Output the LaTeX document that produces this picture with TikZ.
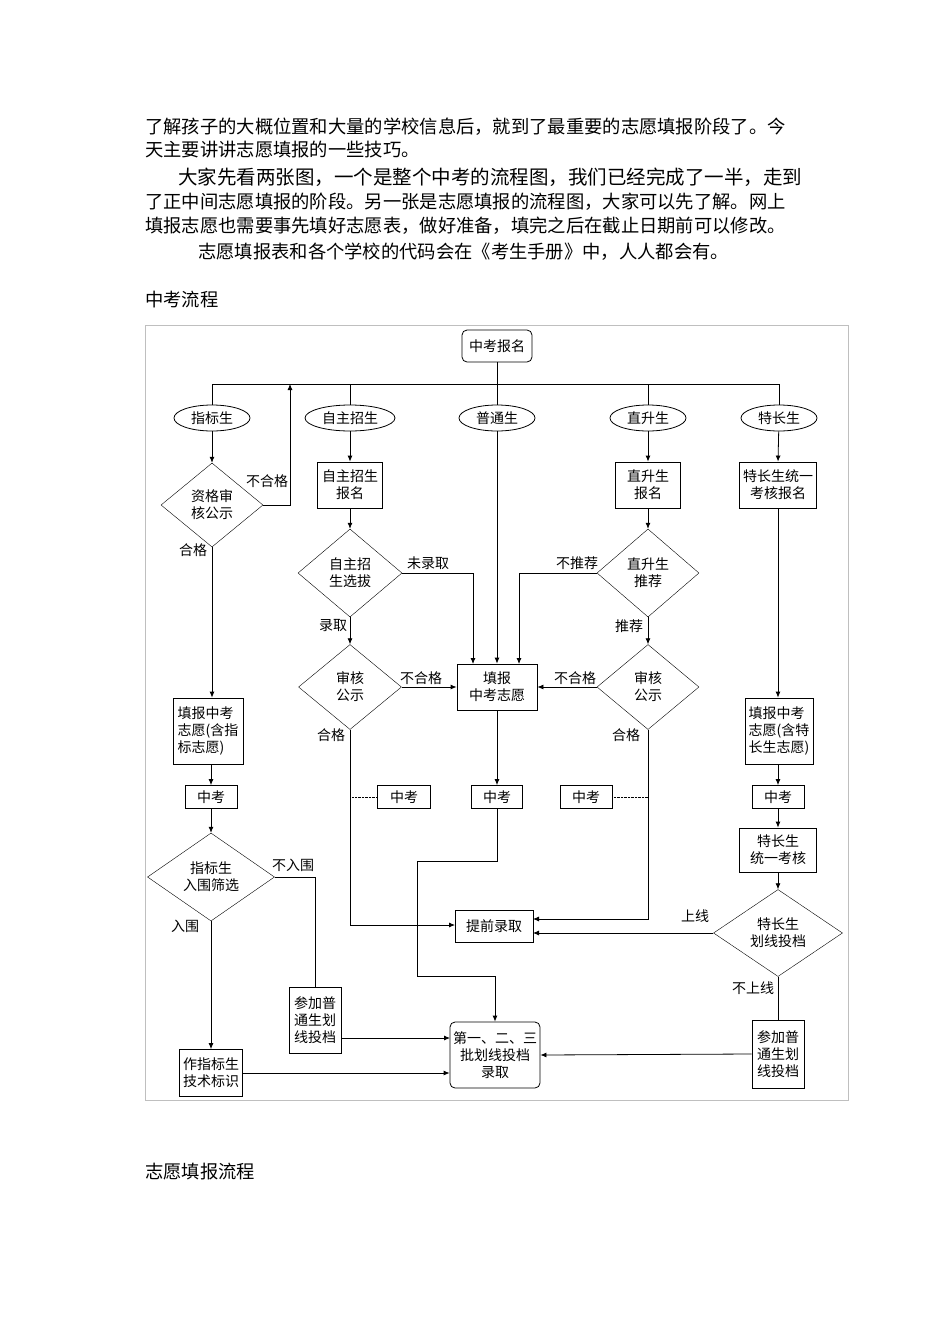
\documentclass[tikz,border=0pt]{standalone}
\usepackage{fontspec}
\setmainfont{Noto Sans CJK SC}
\usetikzlibrary{shapes.geometric,arrows.meta}
\tikzset{
  base/.style={font=\fontsize{14}{17}\selectfont, inner sep=1pt, align=center},
  boxn/.style={base, draw, thick},
  rboxn/.style={base, draw, thick, rounded corners=5pt},
  ell/.style={base, draw, thick, ellipse, minimum height=26pt},
  dia/.style={base, draw, diamond, inner sep=0pt},
  lbl/.style={font=\fontsize{14}{17}\selectfont, inner sep=1pt},
  body/.style={font=\fontsize{18.3}{20}\selectfont, anchor=west, inner sep=0pt},
  arr/.style={-{Latex[length=6pt,width=5pt]}, thick},
  ln/.style={thick},
}
\begin{document}
\begin{tikzpicture}[x=1pt,y=-1pt]
\useasboundingbox (0,0) rectangle (950,1344);
\fill[white] (0,0) rectangle (950,1344);
% body text
\node[body] (t1) at (145,127) {了解孩子的大概位置和大量的学校信息后，就到了最重要的志愿填报阶段了。今};
\node[body] (t2) at (145,150) {天主要讲讲志愿填报的一些技巧。};
\node[body, font=\fontsize{19.5}{20}\selectfont] (t3) at (178,177) {大家先看两张图，一个是整个中考的流程图，我们已经完成了一半，走到};
\node[body] (t4) at (145,202) {了正中间志愿填报的阶段。另一张是志愿填报的流程图，大家可以先了解。网上};
\node[body] (t5) at (145,226) {填报志愿也需要事先填好志愿表，做好准备，填完之后在截止日期前可以修改。};
\node[body] (t6) at (198,252) {志愿填报表和各个学校的代码会在《考生手册》中，人人都会有。};
\node[body] (h1) at (145,300) {中考流程};
\node[body] (h2) at (145,1172) {志愿填报流程};
% frame
\draw[gray!50] (145,325) rectangle (848,1100);
% top
\node[rboxn, minimum width=70pt, minimum height=32pt] (bm) at (497,346) {中考报名};
\node[ell, minimum width=76pt] (e1) at (212,418) {指标生};
\node[ell, minimum width=90pt] (e2) at (350,418) {自主招生};
\node[ell, minimum width=76pt] (e3) at (497,418) {普通生};
\node[ell, minimum width=76pt] (e4) at (648,418) {直升生};
\node[ell, minimum width=76pt] (e5) at (779,418) {特长生};
\coordinate (jl) at (212,384); \coordinate (jr) at (779,384);
\coordinate (jup) at (290,384);
\draw[ln] (e1.north) -- (jl) -- (jr) -- (e5.north);
\draw[ln] (350,384) -- (e2.north);
\draw[ln] (648,384) -- (e4.north);
\draw[ln] (bm.south) -- (e3.north);
% column 1
\node[dia, minimum width=102pt, minimum height=84pt] (d1) at (212,505) {资格审\\核公示};
\draw[arr] (e1) -- (d1.north);
\draw[arr] (d1.east) -- (290,505) -- (jup);
\node[lbl] (l1) at (267,481) {不合格};
\node[lbl] (l2) at (193,550) {合格};
\node[boxn, minimum width=70pt, minimum height=66pt, align=left] (b1) at (208,731) {填报中考\\志愿(含指\\标志愿)};
\draw[arr] (d1.south) -- (b1.north -| d1.south);
\node[boxn, minimum width=52pt, minimum height=23pt] (z1) at (211,797) {中考};
\draw[arr] (b1.south -| z1.north) -- (z1.north);
\node[dia, minimum width=127pt, minimum height=88pt] (d2) at (211,877) {指标生\\入围筛选};
\draw[arr] (z1) -- (d2.north);
\node[lbl] (l3) at (293,865) {不入围};
\node[lbl] (l4) at (185,926) {入围};
\node[boxn, minimum width=52pt, minimum height=66pt] (p1) at (315,1020) {参加普\\通生划\\线投档};
\draw[ln] (d2.east) -- (315,877) -- (p1.north);
\node[boxn, minimum width=63pt, minimum height=47pt] (zb) at (211,1073) {作指标生\\技术标识};
\draw[arr] (d2.south) -- (zb.north);
\node[rboxn, minimum width=90pt, minimum height=66pt] (fin) at (495,1055) {第一、二、三\\批划线投档\\录取};
\draw[arr] (zb.east) -- (zb.east -| fin.west);
\draw[arr] (341,1038) -- (450,1038);
% column 2
\node[boxn, minimum width=65pt, minimum height=46pt] (b2) at (350,485) {自主招生\\报名};
\draw[arr] (e2) -- (b2.north);
\node[dia, minimum width=104pt, minimum height=88pt] (d3) at (350,573) {自主招\\生选拔};
\draw[arr] (b2) -- (d3.north);
\node[lbl] (l5) at (428,563) {未录取};
\node[lbl] (l6) at (333,626) {录取};
\node[dia, minimum width=103pt, minimum height=85pt] (d4) at (350,687) {审核\\公示};
\draw[arr] (d3.south) -- (d4.north);
\node[lbl] (l7) at (421,678) {不合格};
\node[lbl] (l8) at (331,735) {合格};
\node[boxn, minimum width=80pt, minimum height=46pt] (tb) at (497,687) {填报\\中考志愿};
\draw[arr] (d3.east) -- (473,573) -- (473,664);
\draw[arr] (e3.south) -- (tb.north);
\draw[arr] (d4.east) -- (tb.west);
\node[boxn, minimum width=78pt, minimum height=32pt] (tq) at (494,926) {提前录取};
\draw[arr] (d4.south) -- (350,925) -- (455,925);
\node[boxn, minimum width=53pt, minimum height=23pt] (z2) at (404,797) {中考};
\draw[densely dotted] (352,797) -- (z2.west);
\node[boxn, minimum width=51pt, minimum height=23pt] (z3) at (497,797) {中考};
\draw[arr] (tb.south) -- (z3.north);
\draw[ln] (z3.south) -- (497,861) -- (417,861) -- (417,976) -- (495,976);
\draw[arr] (495,976) -- (fin.north);
% column 3
\node[boxn, minimum width=65pt, minimum height=46pt] (b3) at (648,485) {直升生\\报名};
\draw[arr] (e4) -- (b3.north);
\node[dia, minimum width=102pt, minimum height=88pt] (d5) at (648,573) {直升生\\推荐};
\draw[arr] (b3) -- (d5.north);
\node[lbl] (l9) at (577,563) {不推荐};
\node[lbl] (l10) at (629,626) {推荐};
\draw[arr] (d5.west) -- (519,573) -- (519,664);
\node[dia, minimum width=102pt, minimum height=85pt] (d6) at (648,687) {审核\\公示};
\draw[arr] (d5.south) -- (d6.north);
\node[lbl] (l11) at (575,678) {不合格};
\node[lbl] (l12) at (626,735) {合格};
\draw[arr] (d6.west) -- (tb.east);
\draw[arr] (d6.south) -- (648,919) -- (533,919);
\node[boxn, minimum width=52pt, minimum height=23pt] (z4) at (586,797) {中考};
\draw[densely dotted] (z4.east) -- (648,797);
% column 4
\node[boxn, minimum width=77pt, minimum height=46pt] (b4) at (778,485) {特长生统一\\考核报名};
\draw[arr] (e5) -- (b4.north);
\node[boxn, minimum width=68pt, minimum height=66pt, align=left] (b5) at (779,731) {填报中考\\志愿(含特\\长生志愿)};
\draw[arr] (b4.south) -- (b4.south |- b5.north);
\node[boxn, minimum width=52pt, minimum height=23pt] (z5) at (778,797) {中考};
\draw[arr] (b5.south -| z5.north) -- (z5.north);
\node[boxn, minimum width=77pt, minimum height=44pt] (tk) at (778,850) {特长生\\统一考核};
\draw[arr] (z5) -- (tk.north);
\node[dia, minimum width=129pt, minimum height=87pt] (d7) at (778,933) {特长生\\划线投档};
\draw[arr] (tk) -- (d7.north);
\node[lbl] (l13) at (695,916) {上线};
\draw[arr] (d7.west) -- (533,933);
\node[lbl] (l14) at (753,988) {不上线};
\node[boxn, minimum width=52pt, minimum height=68pt] (p2) at (778,1054) {参加普\\通生划\\线投档};
\draw[ln] (d7.south) -- (p2.north);
\draw[arr] (p2.west) -- (fin.east);
\end{tikzpicture}
\end{document}
